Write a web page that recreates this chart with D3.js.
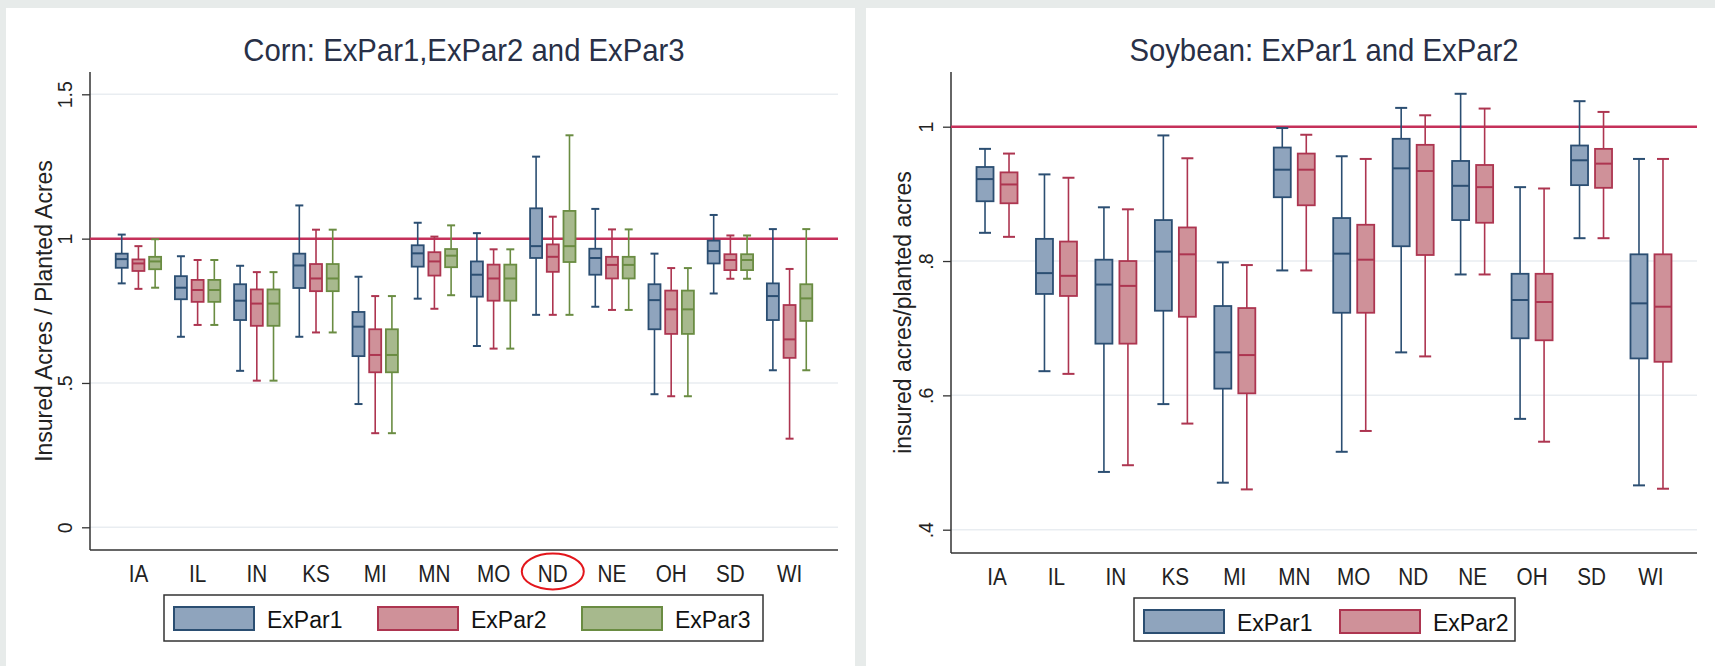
<!DOCTYPE html>
<html>
<head>
<meta charset="utf-8">
<script src="https://cdn.jsdelivr.net/npm/d3@7"></script>
<style>
  body { margin: 0; background: #e7ebea; }
  svg { display: block; font-family: "Liberation Sans", Arial, sans-serif; }
</style>
</head>
<body>
<div id="chart"></div>
<script>
var states = ["IA", "IL", "IN", "KS", "MI", "MN", "MO", "ND", "NE", "OH", "SD", "WI"];

// each entry: [lower whisker, q1, median, q3, upper whisker]
var cornExPar1 = [
  [0.845, 0.899, 0.929, 0.948, 1.014], [0.660, 0.790, 0.830, 0.870, 0.939],
  [0.542, 0.718, 0.785, 0.842, 0.906], [0.660, 0.829, 0.907, 0.948, 1.115],
  [0.427, 0.593, 0.695, 0.746, 0.868], [0.792, 0.903, 0.949, 0.977, 1.055],
  [0.628, 0.799, 0.875, 0.921, 1.019], [0.736, 0.933, 0.974, 1.105, 1.284],
  [0.764, 0.875, 0.933, 0.965, 1.103], [0.461, 0.686, 0.787, 0.842, 0.948],
  [0.810, 0.914, 0.957, 0.993, 1.082], [0.544, 0.718, 0.801, 0.845, 1.033]
];
var cornExPar2 = [
  [0.826, 0.888, 0.914, 0.928, 0.974], [0.701, 0.781, 0.822, 0.857, 0.926],
  [0.508, 0.698, 0.775, 0.824, 0.884], [0.675, 0.818, 0.862, 0.912, 1.031],
  [0.326, 0.537, 0.597, 0.686, 0.801], [0.757, 0.872, 0.921, 0.953, 1.007],
  [0.619, 0.785, 0.862, 0.910, 0.963], [0.736, 0.885, 0.937, 0.980, 1.076],
  [0.753, 0.862, 0.909, 0.937, 1.032], [0.454, 0.670, 0.755, 0.820, 0.898],
  [0.861, 0.891, 0.926, 0.946, 1.011], [0.307, 0.587, 0.651, 0.770, 0.895]
];
var cornExPar3 = [
  [0.830, 0.894, 0.921, 0.937, 0.998], [0.701, 0.781, 0.822, 0.857, 0.926],
  [0.508, 0.698, 0.775, 0.824, 0.884], [0.675, 0.818, 0.862, 0.912, 1.031],
  [0.326, 0.537, 0.597, 0.686, 0.801], [0.804, 0.901, 0.941, 0.964, 1.046],
  [0.619, 0.785, 0.862, 0.910, 0.963], [0.736, 0.919, 0.974, 1.096, 1.358],
  [0.753, 0.862, 0.909, 0.937, 1.032], [0.454, 0.670, 0.755, 0.820, 0.898],
  [0.861, 0.891, 0.926, 0.946, 1.011], [0.544, 0.715, 0.793, 0.842, 1.033]
];
var soyExPar1 = [
  [0.842, 0.889, 0.922, 0.940, 0.967], [0.636, 0.751, 0.782, 0.833, 0.929],
  [0.486, 0.677, 0.765, 0.802, 0.880], [0.587, 0.726, 0.814, 0.861, 0.987],
  [0.470, 0.610, 0.664, 0.733, 0.798], [0.786, 0.895, 0.936, 0.969, 0.998],
  [0.516, 0.723, 0.811, 0.864, 0.956], [0.664, 0.822, 0.938, 0.982, 1.028],
  [0.780, 0.861, 0.912, 0.949, 1.049], [0.565, 0.685, 0.742, 0.781, 0.910],
  [0.834, 0.913, 0.950, 0.972, 1.038], [0.466, 0.655, 0.737, 0.810, 0.952]
];
var soyExPar2 = [
  [0.836, 0.886, 0.914, 0.932, 0.960], [0.632, 0.748, 0.778, 0.829, 0.924],
  [0.496, 0.677, 0.763, 0.800, 0.877], [0.558, 0.717, 0.810, 0.850, 0.953],
  [0.460, 0.603, 0.660, 0.730, 0.794], [0.786, 0.883, 0.936, 0.960, 0.988],
  [0.547, 0.723, 0.802, 0.854, 0.952], [0.658, 0.809, 0.934, 0.973, 1.017],
  [0.780, 0.857, 0.910, 0.943, 1.027], [0.531, 0.682, 0.739, 0.781, 0.908],
  [0.834, 0.909, 0.945, 0.967, 1.022], [0.461, 0.650, 0.732, 0.810, 0.952]
];

var cornTicks = [0, 0.5, 1, 1.5];
var cornTickLabels = ["0", ".5", "1", "1.5"];
var soyTicks = [0.4, 0.6, 0.8, 1];
var soyTickLabels = [".4", ".6", ".8", "1"];

var colors = {
  ExPar1: { fill: "#8fa4bd", stroke: "#2b4e72" },
  ExPar2: { fill: "#cf9199", stroke: "#ad3550" },
  ExPar3: { fill: "#a7b98d", stroke: "#6a8c42" }
};

var svg = d3.select("#chart").append("svg")
  .attr("width", 1715)
  .attr("height", 666);

svg.append("rect").attr("width", 1715).attr("height", 666).attr("fill", "#e7ebea");
svg.append("rect").attr("x", 6).attr("y", 8).attr("width", 849).attr("height", 658).attr("fill", "#fff");
svg.append("rect").attr("x", 866).attr("y", 8).attr("width", 849).attr("height", 658).attr("fill", "#fff");

// the original text is a bit narrower than Arial
function squeeze(sel, k) {
  sel.each(function () {
    var w = this.getComputedTextLength();
    d3.select(this).attr("textLength", w * k).attr("lengthAdjust", "spacingAndGlyphs");
  });
}

function drawPanel(p) {
  var g = svg.append("g");

  var x = d3.scalePoint().domain(states).range([p.left, p.right]).padding(p.pad);
  var y = d3.scaleLinear()
    .domain([p.ticks[0], p.ticks[p.ticks.length - 1]])
    .range([p.tickBottom, p.tickTop]);
  var off = d3.scalePoint().domain(p.series.map(function (s) { return s.name; }))
    .range([-p.spread, p.spread]);

  // grid
  g.selectAll(".grid").data(p.ticks).enter().append("line")
    .attr("x1", p.left).attr("x2", p.right)
    .attr("y1", function (d) { return y(d); })
    .attr("y2", function (d) { return y(d); })
    .attr("stroke", "#e9edf1").attr("stroke-width", 1.5);

  // y axis ticks and labels
  var yAxis = g.append("g")
    .attr("transform", "translate(" + p.left + ",0)")
    .call(d3.axisLeft(y).tickValues(p.ticks)
      .tickFormat(function (d, i) { return p.tickLabels[i]; })
      .tickSize(8));
  yAxis.select(".domain").remove();
  yAxis.selectAll(".tick line").attr("stroke", "#333").attr("stroke-width", 1.3);
  yAxis.selectAll(".tick text")
    .attr("x", 0).attr("dy", null)
    .attr("transform", "translate(-18,0) rotate(-90)")
    .attr("text-anchor", "middle")
    .attr("font-size", "19.5px")
    .attr("fill", "#222")
    .attr("font-family", "Liberation Sans, Arial, sans-serif");

  // axis lines
  g.append("line").attr("x1", p.left).attr("x2", p.left)
    .attr("y1", p.top).attr("y2", p.bottom)
    .attr("stroke", "#333").attr("stroke-width", 1.5);
  g.append("line").attr("x1", p.left).attr("x2", p.right)
    .attr("y1", p.bottom).attr("y2", p.bottom)
    .attr("stroke", "#333").attr("stroke-width", 1.5);

  // x labels
  var xl = g.selectAll(".xlab").data(states).enter().append("text")
    .attr("x", function (d) { return x(d); })
    .attr("y", p.bottom + 32)
    .attr("text-anchor", "middle")
    .attr("font-size", "23px")
    .attr("fill", "#222")
    .text(function (d) { return d; });
  squeeze(xl, 0.9);

  // reference line at 1
  g.append("line").attr("x1", p.left).attr("x2", p.right)
    .attr("y1", y(1)).attr("y2", y(1))
    .attr("stroke", "#c5305a").attr("stroke-width", 2.5);

  // boxes
  p.series.forEach(function (s) {
    var c = colors[s.name];
    var bx = g.append("g").selectAll("g").data(s.values).enter().append("g")
      .attr("transform", function (d, i) { return "translate(" + (x(states[i]) + off(s.name)) + ",0)"; });

    bx.append("line").attr("x1", 0).attr("x2", 0)
      .attr("y1", function (d) { return y(d[4]); })
      .attr("y2", function (d) { return y(d[3]); })
      .attr("stroke", c.stroke).attr("stroke-width", 1.6);
    bx.append("line").attr("x1", 0).attr("x2", 0)
      .attr("y1", function (d) { return y(d[1]); })
      .attr("y2", function (d) { return y(d[0]); })
      .attr("stroke", c.stroke).attr("stroke-width", 1.6);
    bx.append("line").attr("x1", -p.cap / 2).attr("x2", p.cap / 2)
      .attr("y1", function (d) { return y(d[4]); })
      .attr("y2", function (d) { return y(d[4]); })
      .attr("stroke", c.stroke).attr("stroke-width", 2);
    bx.append("line").attr("x1", -p.cap / 2).attr("x2", p.cap / 2)
      .attr("y1", function (d) { return y(d[0]); })
      .attr("y2", function (d) { return y(d[0]); })
      .attr("stroke", c.stroke).attr("stroke-width", 2);
    bx.append("rect")
      .attr("x", -p.boxW / 2).attr("width", p.boxW)
      .attr("y", function (d) { return y(d[3]); })
      .attr("height", function (d) { return y(d[1]) - y(d[3]); })
      .attr("fill", c.fill).attr("stroke", c.stroke).attr("stroke-width", 1.8);
    bx.append("line").attr("x1", -p.boxW / 2).attr("x2", p.boxW / 2)
      .attr("y1", function (d) { return y(d[2]); })
      .attr("y2", function (d) { return y(d[2]); })
      .attr("stroke", c.stroke).attr("stroke-width", 2);
  });

  // title
  var t = g.append("text")
    .attr("x", (p.left + p.right) / 2).attr("y", 61)
    .attr("text-anchor", "middle")
    .attr("font-size", "31.5px")
    .attr("fill", "#283047")
    .text(p.title);
  squeeze(t, 0.93);

  // y title
  g.append("text")
    .attr("transform", "translate(" + p.yTitleX + "," + ((p.top + p.bottom) / 2) + ") rotate(-90)")
    .attr("text-anchor", "middle")
    .attr("font-size", "23px")
    .attr("fill", "#222")
    .text(p.yTitle);

  // legend
  var L = p.legend;
  g.append("rect").attr("x", L.x).attr("y", L.y).attr("width", L.w).attr("height", L.h)
    .attr("fill", "#fff").attr("stroke", "#333").attr("stroke-width", 1.5);
  var li = g.selectAll(".leg").data(p.series).enter().append("g")
    .attr("transform", function (d, i) { return "translate(" + (L.x + 10 + i * L.step) + "," + (L.y + 12) + ")"; });
  li.append("rect").attr("width", 80).attr("height", 23)
    .attr("fill", function (d) { return colors[d.name].fill; })
    .attr("stroke", function (d) { return colors[d.name].stroke; })
    .attr("stroke-width", 2);
  li.append("text").attr("x", 93).attr("y", 21)
    .attr("font-size", "23px").attr("fill", "#111")
    .text(function (d) { return d.name; });

  return x;
}

var xCorn = drawPanel({
  title: "Corn: ExPar1,ExPar2 and ExPar3",
  yTitle: "Insured Acres / Planted Acres",
  left: 90, right: 838, top: 72, bottom: 550, pad: 0.818,
  ticks: cornTicks, tickLabels: cornTickLabels, tickBottom: 527.3, tickTop: 94.3,
  spread: 16.7, boxW: 12, cap: 8, yTitleX: 51.5,
  series: [
    { name: "ExPar1", values: cornExPar1 },
    { name: "ExPar2", values: cornExPar2 },
    { name: "ExPar3", values: cornExPar3 }
  ],
  legend: { x: 164, y: 595, w: 599, h: 46, step: 204 }
});

drawPanel({
  title: "Soybean: ExPar1 and ExPar2",
  yTitle: "insured acres/planted acres",
  left: 951, right: 1697, top: 72, bottom: 553, pad: 0.774,
  ticks: soyTicks, tickLabels: soyTickLabels, tickBottom: 529.7, tickTop: 126.7,
  spread: 12, boxW: 17, cap: 12, yTitleX: 911,
  series: [
    { name: "ExPar1", values: soyExPar1 },
    { name: "ExPar2", values: soyExPar2 }
  ],
  legend: { x: 1134, y: 598, w: 381, h: 43, step: 196 }
});

// red circle drawn around ND on the corn chart
svg.append("ellipse")
  .attr("cx", xCorn("ND")).attr("cy", 571.5)
  .attr("rx", 31).attr("ry", 18)
  .attr("fill", "none")
  .attr("stroke", "#e3161c")
  .attr("stroke-width", 2);
</script>
</body>
</html>
